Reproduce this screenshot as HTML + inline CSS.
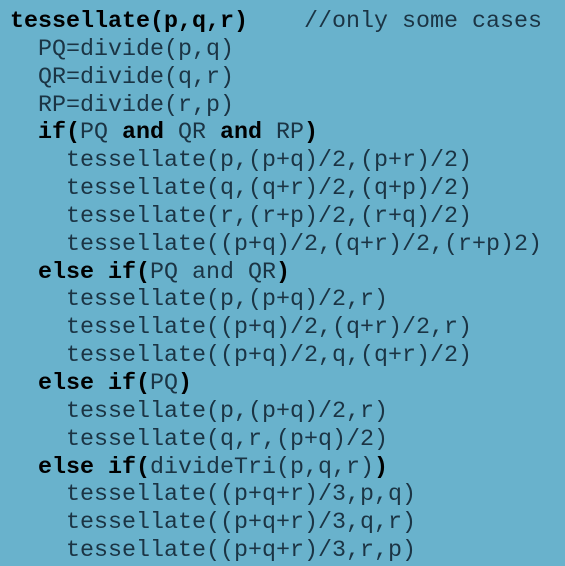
<!DOCTYPE html>
<html><head><meta charset="utf-8"><style>
html,body{margin:0;padding:0;}
body{width:565px;height:566px;background:#69b2cc;overflow:hidden;}
pre{margin:0;position:absolute;left:10px;top:9px;font-family:"Liberation Mono","Courier New","Cousine","Nimbus Mono PS","FreeMono",monospace;font-size:23.33px;line-height:27.85px;color:#1b3444;}
b{color:#000;font-weight:bold;}
</style></head><body>
<pre><b>tessellate(p,q,r)</b>    //only some cases
  PQ=divide(p,q)
  QR=divide(q,r)
  RP=divide(r,p)
  <b>if(</b>PQ <b>and</b> QR <b>and</b> RP<b>)</b>
    tessellate(p,(p+q)/2,(p+r)/2)
    tessellate(q,(q+r)/2,(q+p)/2)
    tessellate(r,(r+p)/2,(r+q)/2)
    tessellate((p+q)/2,(q+r)/2,(r+p)2)
  <b>else if(</b>PQ and QR<b>)</b>
    tessellate(p,(p+q)/2,r)
    tessellate((p+q)/2,(q+r)/2,r)
    tessellate((p+q)/2,q,(q+r)/2)
  <b>else if(</b>PQ<b>)</b>
    tessellate(p,(p+q)/2,r)
    tessellate(q,r,(p+q)/2)
  <b>else if(</b>divideTri(p,q,r)<b>)</b>
    tessellate((p+q+r)/3,p,q)
    tessellate((p+q+r)/3,q,r)
    tessellate((p+q+r)/3,r,p)</pre>
</body></html>
